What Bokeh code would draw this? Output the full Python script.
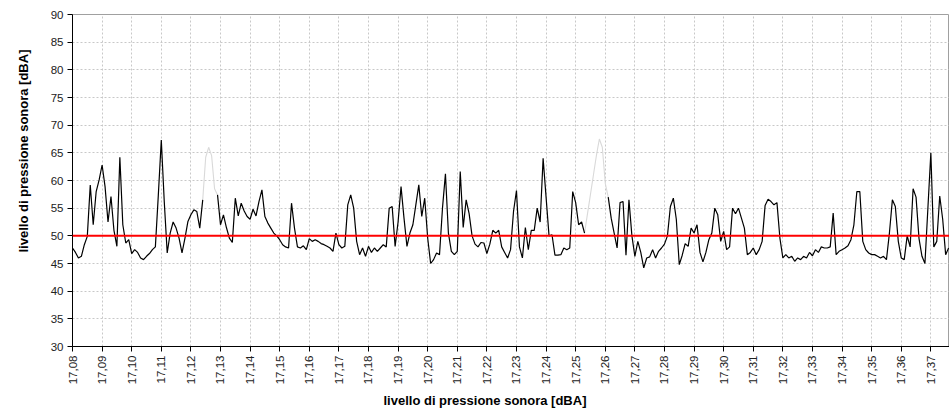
import numpy as np
from bokeh.plotting import figure
from bokeh.models import ColumnDataSource, Span, Title, FixedTicker, Range1d
from bokeh.embed import file_html
from bokeh.resources import INLINE

# Clock labels, one per minute starting at 17:08
time_labels = ["17,08", "17,09", "17,10", "17,11", "17,12", "17,13", "17,14", "17,15",
               "17,16", "17,17", "17,18", "17,19", "17,20", "17,21", "17,22", "17,23",
               "17,24", "17,25", "17,26", "17,27", "17,28", "17,29", "17,30", "17,31",
               "17,32", "17,33", "17,34", "17,35", "17,36", "17,37"]

# Sampling interval of the level record, in minutes
sample_step_min = 0.1

# Sound pressure level samples [dBA]
leq_dba = [
    47.8, 47.0, 46.0, 46.3, 48.4, 49.9, 59.2, 52.0, 58.0, 60.1,
    62.8, 58.9, 52.5, 57.1, 51.0, 48.1, 64.2, 52.0, 48.7, 49.3,
    46.8, 47.5, 47.0, 46.0, 45.7, 46.3, 46.8, 47.5, 48.0, 57.4,
    67.3, 56.2, 46.9, 50.5, 52.5, 51.4, 49.6, 46.9, 49.6, 52.6,
    53.8, 54.7, 54.4, 51.4, 56.5, 64.2, 66.0, 64.5, 58.5, 57.4,
    52.0, 53.8, 51.5, 49.6, 48.8, 56.8, 53.6, 55.9, 54.5, 53.5,
    53.0, 54.8, 53.6, 56.2, 58.3, 53.5, 52.3, 51.4, 50.5, 50.0,
    49.3, 48.4, 48.0, 47.8, 55.9, 51.4, 48.0, 47.8, 48.2, 47.5,
    49.5, 49.0, 49.3, 49.0, 48.6, 48.4, 48.1, 47.8, 47.2, 50.5,
    48.4, 47.8, 48.1, 55.6, 57.4, 55.0, 49.0, 46.6, 47.8, 46.3,
    48.1, 47.0, 47.8, 47.2, 47.8, 48.4, 48.0, 55.0, 55.3, 48.1,
    52.5, 58.9, 53.2, 48.1, 50.5, 52.0, 55.6, 59.2, 53.5, 56.8,
    49.6, 45.0, 45.7, 46.9, 46.6, 55.0, 61.2, 50.5, 47.2, 46.6,
    47.2, 61.6, 51.5, 56.5, 54.0, 50.0, 48.5, 48.0, 48.8, 48.7,
    46.8, 48.5, 51.0, 50.5, 51.0, 48.0, 47.0, 46.0, 47.5, 54.4,
    58.2, 48.0, 46.0, 51.5, 47.5, 51.0, 51.0, 55.0, 52.5, 64.0,
    57.0, 50.0, 50.2, 46.5, 46.5, 46.6, 47.8, 47.5, 47.8, 58.0,
    56.0, 52.0, 52.5, 50.5, 54.0, 57.5, 61.0, 64.5, 67.5, 66.0,
    59.5, 57.0, 53.2, 50.5, 47.8, 56.0, 56.2, 46.5, 56.5, 50.0,
    46.3, 49.0, 47.0, 44.2, 46.0, 46.2, 47.5, 46.0, 47.2, 47.8,
    48.5, 50.0, 55.3, 56.8, 53.0, 44.8, 46.5, 48.6, 48.1, 51.4,
    50.5, 52.0, 47.0, 45.3, 47.0, 49.3, 50.5, 55.0, 53.8, 49.0,
    50.8, 47.5, 48.0, 55.0, 54.0, 55.0, 53.2, 51.4, 46.6, 47.0,
    47.8, 46.6, 47.5, 49.0, 55.5, 56.6, 56.2, 55.6, 56.0, 49.6,
    46.0, 46.6, 46.0, 46.3, 45.4, 46.0, 45.7, 46.3, 46.0, 47.0,
    46.4, 47.5, 47.0, 48.0, 47.8, 47.8, 48.0, 54.1, 46.6, 47.2,
    47.5, 47.8, 48.2, 49.3, 52.0, 58.0, 58.0, 49.0, 47.5, 46.9,
    46.6, 46.6, 46.3, 46.0, 46.3, 45.7, 50.5, 56.5, 55.3, 49.0,
    46.0, 45.7, 50.0, 48.0, 58.5, 57.0, 49.5, 46.3, 45.0, 55.0,
    65.0, 48.0, 49.0, 57.2, 53.0, 46.6, 47.8,
]

# Stretches of the record excluded from the evaluation (minutes from 17:08)
excluded_start_min = [4.45, 17.35]
excluded_end_min = [4.85, 18.05]

# Reference limit [dBA]
limit_dba = 50

minutes = np.arange(len(leq_dba)) * sample_step_min
levels = np.array(leq_dba, dtype=float)

excluded = np.zeros(len(levels), dtype=bool)
for s, e in zip(excluded_start_min, excluded_end_min):
    excluded |= (minutes >= s - 1e-9) & (minutes <= e + 1e-9)

# Included part: gaps where excluded
main_vals = levels.copy()
main_vals[excluded] = np.nan

# Excluded part, joined to the neighbouring samples
grey_mask = excluded.copy()
grey_mask[1:] |= excluded[:-1]
grey_mask[:-1] |= excluded[1:]
grey_vals = levels.copy()
grey_vals[~grey_mask] = np.nan

src = ColumnDataSource(dict(t=minutes, main=main_vals, grey=grey_vals))

FONT = "Liberation Sans"
W, H = 949, 412

p = figure(width=W, height=H, output_backend="svg", toolbar_location=None,
           x_range=Range1d(0, 29.63), y_range=Range1d(30, 90),
           min_border_left=72, min_border_right=0, min_border_top=14, min_border_bottom=66)
p.background_fill_color = "white"
p.border_fill_color = "white"
p.outline_line_color = "#a0a0a0"
p.outline_line_width = 1

# Grid
p.xgrid.grid_line_color = "#c8c8c8"
p.xgrid.grid_line_dash = "2 2"
p.ygrid.grid_line_color = "#c8c8c8"
p.ygrid.grid_line_dash = "2 2"

# Axes
p.xaxis.ticker = FixedTicker(ticks=list(range(len(time_labels))))
p.xaxis.major_label_overrides = {i: lab for i, lab in enumerate(time_labels)}
p.xaxis.major_label_orientation = np.pi / 2
p.yaxis.ticker = FixedTicker(ticks=list(range(30, 91, 5)))
for ax in (p.xaxis[0], p.yaxis[0]):
    ax.axis_line_color = "black"
    ax.axis_line_width = 1
    ax.major_tick_line_color = "black"
    ax.major_tick_out = 5
    ax.major_tick_in = 0
    ax.minor_tick_line_color = None
    ax.major_label_text_font = FONT
    ax.major_label_text_font_size = "11.5px"
    ax.major_label_text_color = "#222222"
    ax.major_label_standoff = 4

p.line("t", "grey", source=src, line_color="#d9d9d9", line_width=1.1)
p.line("t", "main", source=src, line_color="black", line_width=1.2)

p.add_layout(Span(location=limit_dba, dimension="width", line_color="#ff0000", line_width=2))

# Axis titles
title_text = "livello di pressione sonora [dBA]"
ytitle = Title(text=title_text, align="left", offset=94, vertical_align="top", standoff=30,
               text_font=FONT, text_font_style="bold", text_font_size="13px", text_color="black")
xtitle = Title(text=title_text, align="left", offset=311, vertical_align="bottom", standoff=7,
               text_font=FONT, text_font_style="bold", text_font_size="13px", text_color="black")
p.add_layout(ytitle, "left")
p.add_layout(xtitle, "below")

open("out.html", "w").write(file_html(p, INLINE))
